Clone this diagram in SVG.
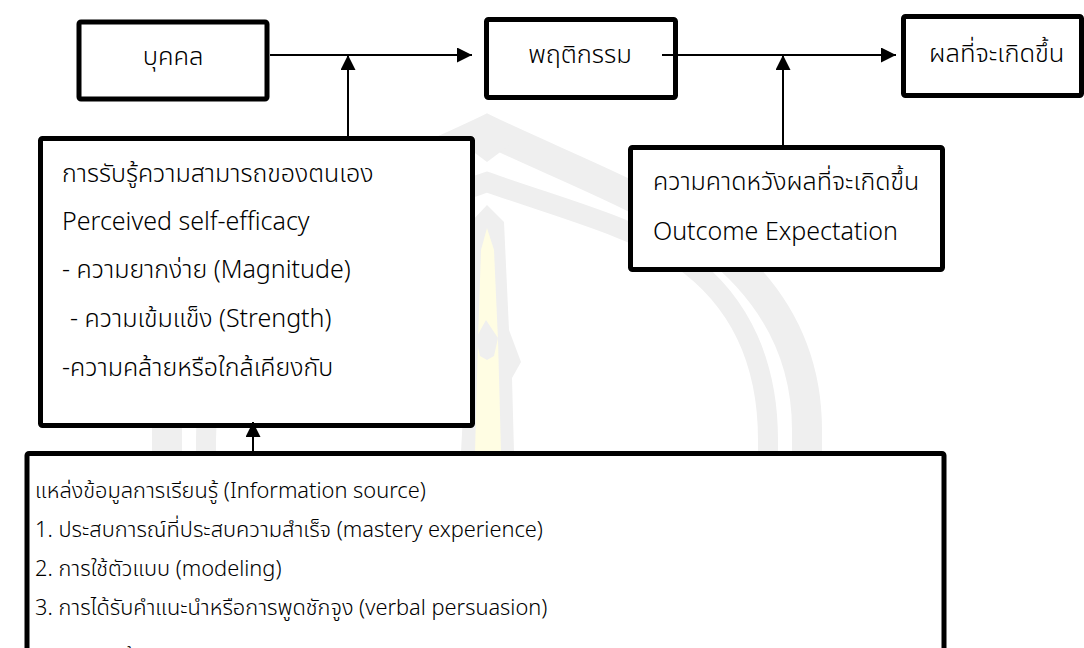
<svg xmlns="http://www.w3.org/2000/svg" width="1084" height="648" viewBox="0 0 1084 648">
  <defs>
    <style>
      .box { fill: #ffffff; stroke: #000000; stroke-width: 5; }
      .conn { stroke: #000000; stroke-width: 2; fill: none; }
      .t { font-family: "Leelawadee UI", "Noto Sans Thai", "Noto Sans", "Open Sans", sans-serif; fill: #000000; font-weight: 300; }
      .big { font-size: 25.5px; }
      .mid { font-size: 25px; }
      .small { font-size: 21.8px; }
      .wm { fill: none; stroke: #efefef; stroke-linejoin: miter; }
    </style>
    <marker id="arrow" viewBox="0 0 15 15" refX="15" refY="7.5" markerWidth="15" markerHeight="15" markerUnits="userSpaceOnUse" orient="auto">
      <path d="M0,0 L15,7.5 L0,15 z" fill="#000000"/>
    </marker>
    <clipPath id="pageClip">
      <rect x="0" y="0" width="1084" height="648"/>
    </clipPath>
  </defs>

  <rect x="0" y="0" width="1084" height="648" fill="#ffffff"/>

  <!-- faint emblem in the background -->
  <g id="watermark">
    <path class="wm" stroke-width="30" d="M167,660 L167,430 C167,350 204,285 274,235 C334,195 414,165 487,130 C560,165 640,195 700,235 C770,285 807,350 807,430 L807,660"/>
    <path d="M455,138 L487,162 L519,138 Z" fill="#efefef"/>
    <path class="wm" stroke-width="20" d="M206,660 L206,440 C206,370 229,303 294,258 C344,226 414,208 487,182 C560,208 630,226 680,258 C745,303 768,370 768,440 L768,660"/>
    <path d="M487,205 L504,222 L509,330 L521,362 L512,378 L514,452 L461,452 L465,378 L470,330 L471,222 Z" fill="#efefef"/>
    <path d="M487,228 L494,250 L498,340 L501,452 L475,452 L478,340 L481,250 Z" fill="#fffde3"/>
    <path d="M486,320 L498,338 L494,356 L487,360 L480,356 L476,338 Z" fill="#efefef"/>
  </g>

  <g id="node-person">
    <rect class="box" x="79" y="22" width="188" height="77" rx="2"/>
    <text class="t big" x="173" y="65" text-anchor="middle">บุคคล</text>
  </g>

  <g id="node-behavior">
    <rect class="box" x="486.5" y="19.5" width="189" height="78" rx="2"/>
    <text class="t big" x="580" y="63" text-anchor="middle">พฤติกรรม</text>
  </g>

  <g id="node-outcome">
    <rect class="box" x="903.5" y="16.5" width="178" height="79" rx="2"/>
    <text class="t big" x="929" y="62">ผลที่จะเกิดขึ้น</text>
  </g>

  <g id="node-self-efficacy">
    <rect class="box" x="40.5" y="138.5" width="432" height="287" rx="2"/>
    <text class="t mid" x="62" y="182">การรับรู้ความสามารถของตนเอง</text>
    <text class="t mid" x="62" y="230">Perceived self-efficacy</text>
    <text class="t mid" x="62" y="278">- ความยากง่าย (Magnitude)</text>
    <text class="t mid" x="70" y="327">- ความเข้มแข็ง (Strength)</text>
    <text class="t mid" x="62" y="376">-ความคล้ายหรือใกล้เคียงกับ</text>
  </g>

  <g id="node-outcome-expectation">
    <rect class="box" x="630.5" y="147.5" width="312" height="122" rx="2"/>
    <text class="t mid" x="653" y="190">ความคาดหวังผลที่จะเกิดขึ้น</text>
    <text class="t mid" x="653" y="240">Outcome Expectation</text>
  </g>

  <g id="node-information-source">
    <rect class="box" x="27" y="453.5" width="917" height="250" rx="2"/>
    <g clip-path="url(#pageClip)">
      <text class="t small" x="35" y="498">แหล่งข้อมูลการเรียนรู้ (Information source)</text>
      <text class="t small" x="35" y="537">1. ประสบการณ์ที่ประสบความสำเร็จ (mastery experience)</text>
      <text class="t small" x="35" y="576">2. การใช้ตัวแบบ (modeling)</text>
      <text class="t small" x="35" y="615">3. การได้รับคำแนะนำหรือการพูดชักจูง (verbal persuasion)</text>
      <text class="t small" x="35" y="664">4. การกระตุ้นทางอารมณ์ (emotional arousal)</text>
    </g>
  </g>

  <g id="connectors">
    <path class="conn" d="M270,55 H472" marker-end="url(#arrow)"/>
    <path class="conn" d="M348,136 V55" marker-end="url(#arrow)"/>
    <path class="conn" d="M662,55 H896" marker-end="url(#arrow)"/>
    <path class="conn" d="M783,145 V55" marker-end="url(#arrow)"/>
    <path class="conn" d="M253,451 V422" marker-end="url(#arrow)"/>
  </g>
</svg>
